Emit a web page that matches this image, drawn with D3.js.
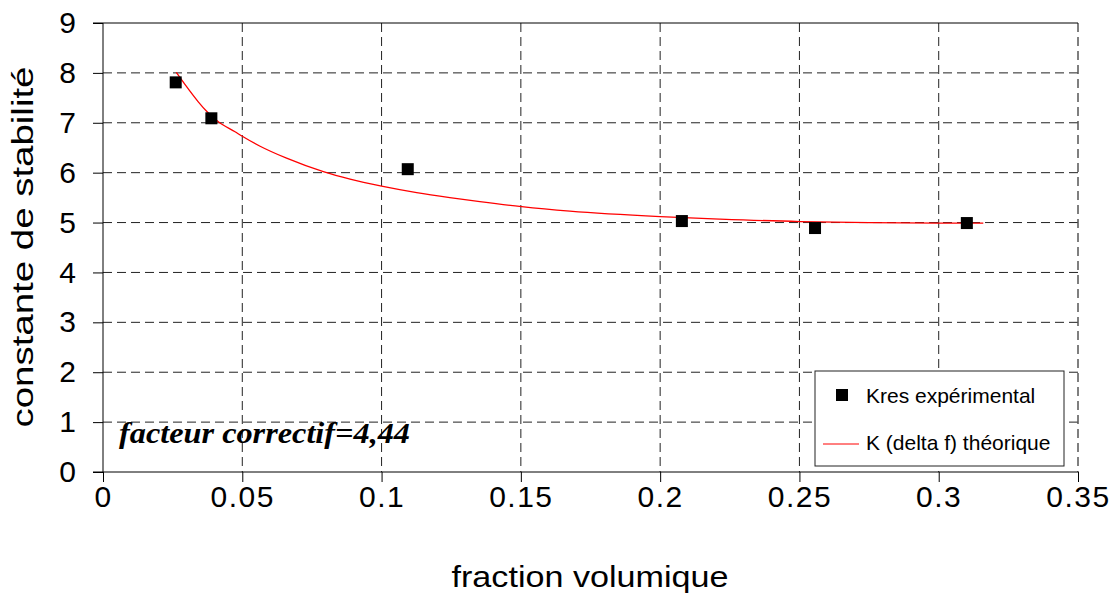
<!DOCTYPE html>
<html>
<head>
<meta charset="utf-8">
<script src="https://cdn.jsdelivr.net/npm/d3@7"></script>
<style>
  body { margin: 0; background: #fff; }
  svg { font-family: "Liberation Sans", Arial, sans-serif; }
</style>
</head>
<body>
<div id="chart-area"></div>
<script>
// experimental points
var expX = [0.0261, 0.0389, 0.1094, 0.2078, 0.2556, 0.3101];
var expK = [7.81, 7.09, 6.07, 5.03, 4.89, 4.99];

// theoretical curve
var curveX = [0.0263, 0.0294, 0.0342, 0.0372, 0.0414, 0.0474, 0.0500, 0.0564, 0.0659,
              0.0791, 0.0887, 0.1000, 0.1126, 0.1245, 0.1353, 0.1503, 0.1676, 0.2000, 0.2215,
              0.2502, 0.2998, 0.3160];
var curveK = [8.01, 7.77, 7.42, 7.23, 7.02, 6.82, 6.73, 6.53, 6.29,
              6.02, 5.87, 5.73, 5.60, 5.50, 5.42, 5.32, 5.23, 5.12, 5.07,
              5.02, 4.99, 4.99];

var xTicks = [0, 0.05, 0.1, 0.15, 0.2, 0.25, 0.3, 0.35];
var yTicks = [0, 1, 2, 3, 4, 5, 6, 7, 8, 9];
var legendLabels = ["Kres expérimental", "K (delta f) théorique"];

var svg = d3.select("#chart-area").append("svg")
    .attr("width", 1115)
    .attr("height", 597);

var x = d3.scaleLinear().domain([0, 0.35]).range([103, 1078]);
var y = d3.scaleLinear().domain([0, 9]).range([472, 23]);

// grid
svg.selectAll(".hgrid")
    .data(yTicks.filter(function(d){ return d > 0 && d < 9; }))
    .enter().append("line")
    .attr("x1", x(0)).attr("x2", x(0.35))
    .attr("y1", function(d){ return y(d); })
    .attr("y2", function(d){ return y(d); })
    .attr("stroke", "#222")
    .attr("stroke-dasharray", "9,5");

svg.selectAll(".vgrid")
    .data(xTicks.filter(function(d){ return d > 0; }))
    .enter().append("line")
    .attr("x1", function(d){ return x(d); })
    .attr("x2", function(d){ return x(d); })
    .attr("y1", y(9)).attr("y2", y(0))
    .attr("stroke", function(d){ return d == 0.35 ? "#555" : "#222"; })
    .attr("stroke-width", function(d){ return d == 0.35 ? 1.5 : 1; })
    .attr("stroke-dasharray", "9,5");

// top border line
svg.append("line")
    .attr("x1", x(0) - 10).attr("x2", x(0.35))
    .attr("y1", y(9)).attr("y2", y(9))
    .attr("stroke", "#000");

// axes
var yAxis = d3.axisLeft(y).tickValues(yTicks).tickSize(10).tickPadding(17)
    .tickFormat(d3.format("d"));
svg.append("g")
    .attr("transform", "translate(" + x(0) + ",0)")
    .call(yAxis)
    .call(function(g){ g.select(".domain").attr("d", "M0," + y(9) + "V" + y(0)); })
    .selectAll("text")
    .attr("font-size", 30)
    .attr("font-family", "Liberation Sans, Arial, sans-serif")
    .attr("fill", "#000");

var xAxis = d3.axisBottom(x).tickValues(xTicks).tickSize(10).tickPadding(4)
    .tickFormat(function(d){ return d == 0 ? "0" : String(d); });
svg.append("g")
    .attr("transform", "translate(0," + y(0) + ")")
    .call(xAxis)
    .call(function(g){ g.select(".domain").attr("d", "M" + (x(0) - 10) + ",0H" + x(0.35)); })
    .selectAll("text")
    .attr("font-size", 30)
    .attr("letter-spacing", "1.5px")
    .attr("font-family", "Liberation Sans, Arial, sans-serif")
    .attr("fill", "#000");

svg.selectAll(".tick line").attr("stroke", "#000");
svg.selectAll(".domain").attr("stroke", "#000");

// theoretical curve
var line = d3.line()
    .x(function(d, i){ return x(curveX[i]); })
    .y(function(d, i){ return y(curveK[i]); })
    .curve(d3.curveMonotoneX);

svg.append("path")
    .datum(curveK)
    .attr("d", line)
    .attr("fill", "none")
    .attr("stroke", "#ff0000")
    .attr("stroke-width", 1.3);

// experimental squares
svg.selectAll(".pt")
    .data(expK)
    .enter().append("rect")
    .attr("x", function(d, i){ return x(expX[i]) - 6; })
    .attr("y", function(d){ return y(d) - 6; })
    .attr("width", 12)
    .attr("height", 12)
    .attr("fill", "#000");

// annotation
svg.append("text")
    .attr("x", 119)
    .attr("y", 443)
    .attr("font-family", "Liberation Serif, Times New Roman, serif")
    .attr("font-style", "italic")
    .attr("font-weight", "bold")
    .attr("font-size", 29)
    .attr("textLength", 291)
    .attr("lengthAdjust", "spacingAndGlyphs")
    .text("facteur correctif=4,44");

// legend
var legend = svg.append("g");
legend.append("rect")
    .attr("x", 815).attr("y", 371)
    .attr("width", 249).attr("height", 95)
    .attr("fill", "#fff")
    .attr("stroke", "#222");
legend.append("rect")
    .attr("x", 836).attr("y", 389)
    .attr("width", 12).attr("height", 12)
    .attr("fill", "#000");
legend.append("line")
    .attr("x1", 823).attr("x2", 859)
    .attr("y1", 444).attr("y2", 444)
    .attr("stroke", "#ff0000");
legend.selectAll(".lt")
    .data(legendLabels)
    .enter().append("text")
    .attr("x", 866)
    .attr("y", function(d, i){ return 403 + i * 47; })
    .attr("font-size", 21)
    .text(function(d){ return d; });

// axis titles
svg.append("text")
    .attr("x", 590)
    .attr("y", 587)
    .attr("text-anchor", "middle")
    .attr("font-size", 30)
    .attr("textLength", 277)
    .attr("lengthAdjust", "spacingAndGlyphs")
    .text("fraction volumique");

svg.append("text")
    .attr("transform", "translate(33,247) rotate(-90)")
    .attr("text-anchor", "middle")
    .attr("font-size", 30)
    .attr("textLength", 361)
    .attr("lengthAdjust", "spacingAndGlyphs")
    .text("constante de stabilité");
</script>
</body>
</html>
